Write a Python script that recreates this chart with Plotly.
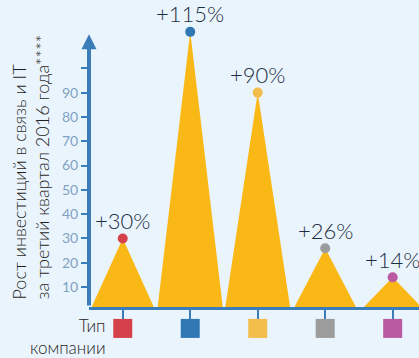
import plotly.graph_objects as go

# Investment growth by company type, Q3 2016
categories = ["A", "B", "C", "D", "E"]
growth = [30, 115, 90, 26, 14]
labels = ["+30%", "+115%", "+90%", "+26%", "+14%"]
type_colors = ["#D4414A", "#3078B3", "#F2BD4A", "#9C9C9C", "#B95AA2"]
y_ticks = [10, 20, 30, 40, 50, 60, 70, 80, 90, 100]
y_ticklabels = ["10", "20", "30", "40", "50", "60", "70", "80", "90", ""]

AXIS = "#3A7DB8"
FILL = "#FAB817"
BG = "#EAF4FC"
FONT = "Lato"
Y_MIN, Y_MAX = 1.8, 128.1
HALF = 0.49
H = 358
PLOT_BOTTOM = 51  # px reserved below the category axis

fig = go.Figure()

# one triangle per category, apex at the growth value
for i, v in enumerate(growth):
    fig.add_trace(go.Scatter(
        x=[i - HALF, i, i + HALF, i - HALF],
        y=[0, v, 0, 0],
        mode="lines", fill="toself", fillcolor=FILL,
        line=dict(width=0, color=FILL), hoverinfo="skip", showlegend=False,
    ))

# apex dots
fig.add_trace(go.Scatter(
    x=list(range(len(growth))), y=growth, mode="markers",
    marker=dict(size=10, color=type_colors), cliponaxis=False,
    showlegend=False,
))

# colour keys under the category axis (own strip axis)
fig.add_trace(go.Scatter(
    x=list(range(len(growth))), y=[0.58] * len(growth), mode="markers",
    marker=dict(size=19, symbol="square", color=type_colors, line=dict(width=0)),
    xaxis="x", yaxis="y2", cliponaxis=False, showlegend=False,
    hoverinfo="skip",
))

annotations = []
for i, (v, t) in enumerate(zip(growth, labels)):
    annotations.append(dict(
        x=i, y=v, xref="x", yref="y", text=t, showarrow=False,
        yshift=18, yanchor="middle",
        font=dict(family=FONT, size=22, color="#1C2E44", weight=300),
    ))

# vertical axis with arrow head
annotations.append(dict(
    x=-0.5, y=114, ax=-0.5, ay=Y_MIN, xref="x", yref="y",
    axref="x", ayref="y", text="", showarrow=True,
    arrowhead=2, arrowsize=0.75, arrowwidth=4, arrowcolor=AXIS,
))

# axis title
annotations.append(dict(
    x=0, y=(H - 302) / H, xref="paper", yref="paper", xshift=-59,
    xanchor="center", yanchor="bottom", textangle=-90, align="left",
    text="Рост инвестиций в связь и IT<br>за третий квартал 2016 года****",
    showarrow=False,
    font=dict(family=FONT, size=18, color="#1E1E1E", weight=300),
))

# category caption
annotations.append(dict(
    x=0, y=(H - 336) / H, xref="paper", yref="paper", xshift=19,
    xanchor="right", yanchor="middle", align="right",
    text="Тип<br>компании", showarrow=False,
    font=dict(family=FONT, size=17, color="#1E1E1E", weight=300),
))

fig.update_layout(
    width=419, height=H,
    margin=dict(l=89, r=0, t=0, b=0),
    paper_bgcolor=BG, plot_bgcolor=BG,
    annotations=annotations,
    xaxis=dict(
        range=[-0.5, 4.39], showgrid=False, zeroline=False,
        showline=True, linecolor=AXIS, linewidth=3, anchor="y",
        tickvals=list(range(len(categories))), ticktext=[""] * len(categories),
        ticks="outside", ticklen=11, tickwidth=2, tickcolor=AXIS,
        fixedrange=True,
    ),
    yaxis=dict(
        domain=[PLOT_BOTTOM / H, 1],
        range=[Y_MIN, Y_MAX], showgrid=False, zeroline=False, showline=False,
        tickvals=y_ticks, ticktext=y_ticklabels,
        ticks="outside", ticklen=7, tickwidth=2, tickcolor=AXIS,
        tickfont=dict(family=FONT, size=14, color="#7FA3C3"),
        fixedrange=True,
    ),
    yaxis2=dict(
        domain=[0, PLOT_BOTTOM / H], range=[0, 1], visible=False,
        fixedrange=True,
    ),
)

fig.write_html("out.html")
